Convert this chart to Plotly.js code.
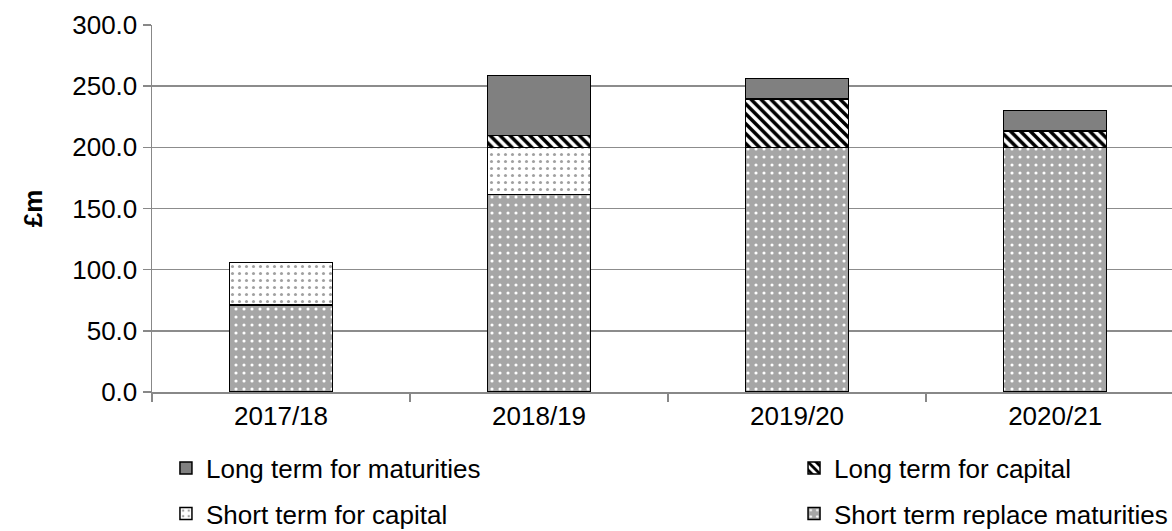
<!DOCTYPE html>
<html>
<head>
<meta charset="utf-8">
<script src="https://cdn.plot.ly/plotly-3.0.1.min.js"></script>
<style>html,body{margin:0;padding:0;background:#fff;}#chart{width:1172px;height:531px;}</style>
</head>
<body>
<div id="chart"></div>
<script>
var categories = ["2017/18", "2018/19", "2019/20", "2020/21"];
var shortTermReplaceMaturities = [71.0, 161.3, 200.0, 200.0];
var shortTermForCapital = [35.0, 38.7, 0, 0];
var longTermForCapital = [0, 9.5, 39.5, 13.4];
var longTermForMaturities = [0, 49.3, 16.9, 16.6];
var yTickValues = [0, 50, 100, 150, 200, 250, 300];

var FONT = "Liberation Sans, Arial, sans-serif";
var outline = {color: "#000000", width: 1.5};

var traces = [
  {name: "Short term replace maturities", x: categories, y: shortTermReplaceMaturities, type: "bar",
   legend: "legend4",
   marker: {color: "#a6a6a6", line: outline,
     pattern: {shape: ".", bgcolor: "#a6a6a6", fgcolor: "#ffffff", size: 8, solidity: 0.12}}},
  {name: "Short term for capital", x: categories, y: shortTermForCapital, type: "bar",
   legend: "legend3",
   marker: {color: "#ffffff", line: outline,
     pattern: {shape: ".", bgcolor: "#ffffff", fgcolor: "#a0a0a0", size: 7, solidity: 0.15}}},
  {name: "Long term for capital", x: categories, y: longTermForCapital, type: "bar",
   legend: "legend2",
   marker: {color: "#ffffff", line: outline,
     pattern: {shape: "\\", bgcolor: "#ffffff", fgcolor: "#000000", size: 7, solidity: 0.5}}},
  {name: "Long term for maturities", x: categories, y: longTermForMaturities, type: "bar",
   legend: "legend",
   marker: {color: "#808080", line: outline}}
];

var legendCommon = {orientation: "h", xanchor: "left", yanchor: "middle",
  font: {family: FONT, size: 26, color: "#000"}, borderwidth: 0,
  bgcolor: "rgba(0,0,0,0)", itemclick: false, xref: "container", yref: "container"};

var colLeft = 0.1416, colRight = 0.6775, rowTop = 0.1186, rowBottom = 0.033;

var layout = {
  width: 1172, height: 531,
  margin: {l: 152, r: 0, t: 25, b: 139, autoexpand: false},
  paper_bgcolor: "#ffffff", plot_bgcolor: "#ffffff",
  barmode: "stack", bargap: 0.6,
  font: {family: FONT, size: 26, color: "#000"},
  showlegend: true,
  xaxis: {type: "category", range: [-0.5, 3.453], showgrid: false, showline: true,
    linecolor: "#888888", linewidth: 1.5, ticks: "outside", tickson: "boundaries",
    ticklen: 8, tickcolor: "#888888", tickwidth: 1.5,
    tickfont: {family: FONT, size: 26, color: "#000"}, fixedrange: true, automargin: false},
  yaxis: {range: [0, 300], tickvals: yTickValues, tickformat: ".1f",
    showgrid: true, gridcolor: "#8c8c8c", gridwidth: 1.5, zeroline: false,
    showline: true, linecolor: "#888888", linewidth: 1.5,
    ticks: "outside", ticklen: 8, tickcolor: "#888888", tickwidth: 1.5,
    tickfont: {family: FONT, size: 26, color: "#000"},
    title: {text: "<b>£m</b>", font: {family: FONT, size: 26, color: "#000"}, standoff: 22},
    fixedrange: true, automargin: false},
  legend: Object.assign({}, legendCommon, {x: colLeft, y: rowTop}),
  legend2: Object.assign({}, legendCommon, {x: colRight, y: rowTop}),
  legend3: Object.assign({}, legendCommon, {x: colLeft, y: rowBottom}),
  legend4: Object.assign({}, legendCommon, {x: colRight, y: rowBottom})
};

Plotly.newPlot("chart", traces, layout, {displayModeBar: false, staticPlot: true});
</script>
</body>
</html>
